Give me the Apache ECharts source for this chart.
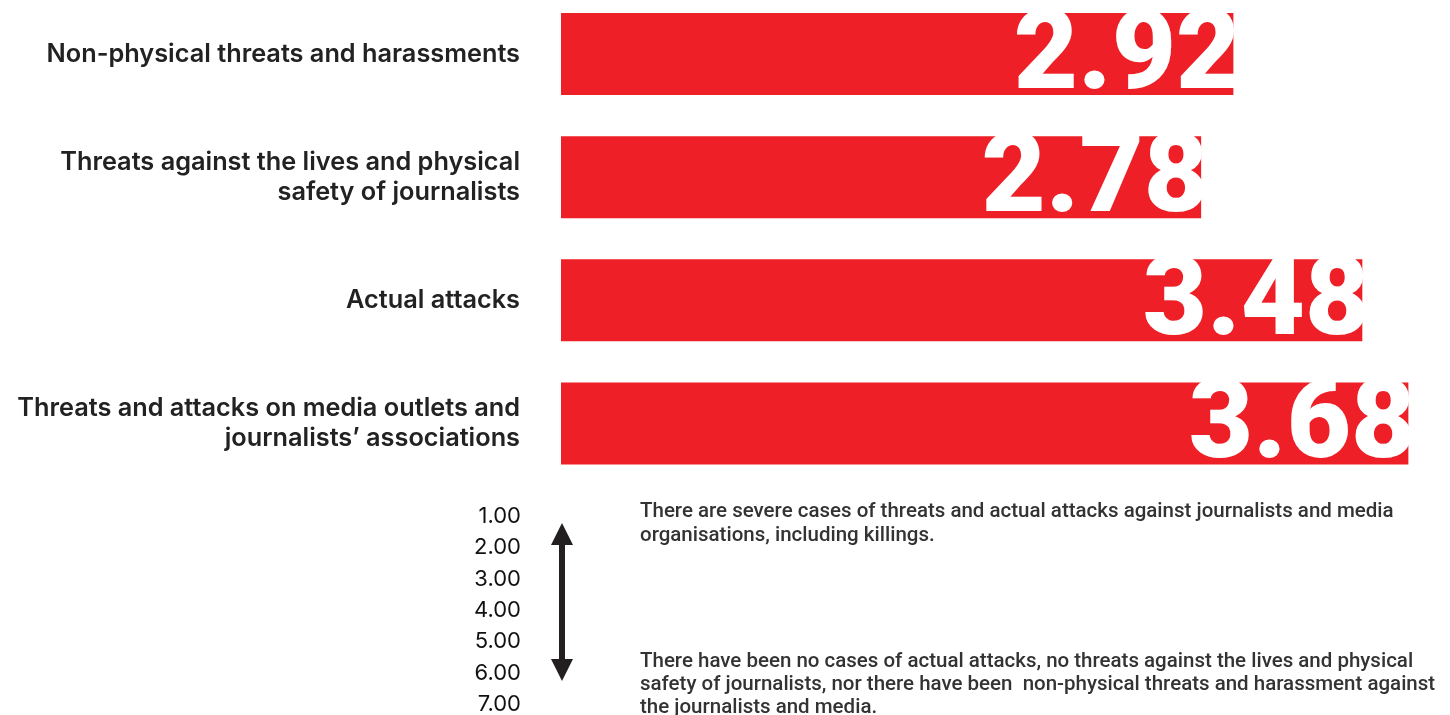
<!DOCTYPE html>
<html><head><meta charset="utf-8">
<script src="https://cdn.jsdelivr.net/npm/echarts@6/dist/echarts.min.js"></script>
<style>html,body{margin:0;padding:0;background:#fff}#c{width:1450px;height:715px}</style>
</head><body><div id="c"></div>
<script>
const categories = [
  'Non-physical threats and harassments',
  'Threats against the lives and physical\nsafety of journalists',
  'Actual attacks',
  'Threats and attacks on media outlets and\njournalists\u2019 associations'
];
const values = [2.92, 2.78, 3.48, 3.68];
const scaleLabels = ['1.00','2.00','3.00','4.00','5.00','6.00','7.00'];
const topNote = 'There are severe cases of threats and actual attacks against journalists and media\norganisations, including killings.';
const bottomNote = 'There have been no cases of actual attacks, no threats against the lives and physical\nsafety of journalists, nor there have been  non-physical threats and harassment against\nthe journalists and media.';

const chart = echarts.init(document.getElementById('c'));
const graphics = [];
scaleLabels.forEach((t, i) => {
  graphics.push({type:'text', right: 1450-521, top: 505.5 + i*31.3,
    style:{text:t, font:'400 22px Inter', fill:'#111', textAlign:'right'}});
});
graphics.push({type:'rect', shape:{x:559, y:540, width:6, height:124}, style:{fill:'#231f20'}});
graphics.push({type:'polygon', shape:{points:[[562,523],[551,545],[573,545]]}, style:{fill:'#231f20'}});
graphics.push({type:'polygon', shape:{points:[[562,681],[551,659],[573,659]]}, style:{fill:'#231f20'}});
graphics.push({type:'text', left:640, top:500, style:{text:topNote, font:'500 20.5px Roboto', fill:'#333', lineHeight:24}});
graphics.push({type:'text', left:640, top:650, style:{text:bottomNote, font:'500 20.5px Roboto', fill:'#333', lineHeight:23}});

chart.setOption({
  animation:false,
  grid:{left:561, right:14, top:54, height:369.5, containLabel:false},
  xAxis:{type:'value', min:0, max:3.8, show:false},
  yAxis:{type:'category', data:categories, inverse:true, boundaryGap:false,
    axisLine:{show:false}, axisTick:{show:false}, splitLine:{show:false},
    axisLabel:{margin:41, fontFamily:'Inter', fontWeight:600, fontSize:25.3, color:'#222', lineHeight:30, align:'right'}},
  series:[{type:'bar', data:values, barWidth:82, itemStyle:{color:'#ee1f26'},
    label:{show:true, position:'insideRight', offset:[12,6], color:'#fff',
      fontFamily:'Roboto', fontWeight:900, fontSize:111, formatter:p=>p.value.toFixed(2)}}],
  graphic:graphics
});
</script></body></html>
